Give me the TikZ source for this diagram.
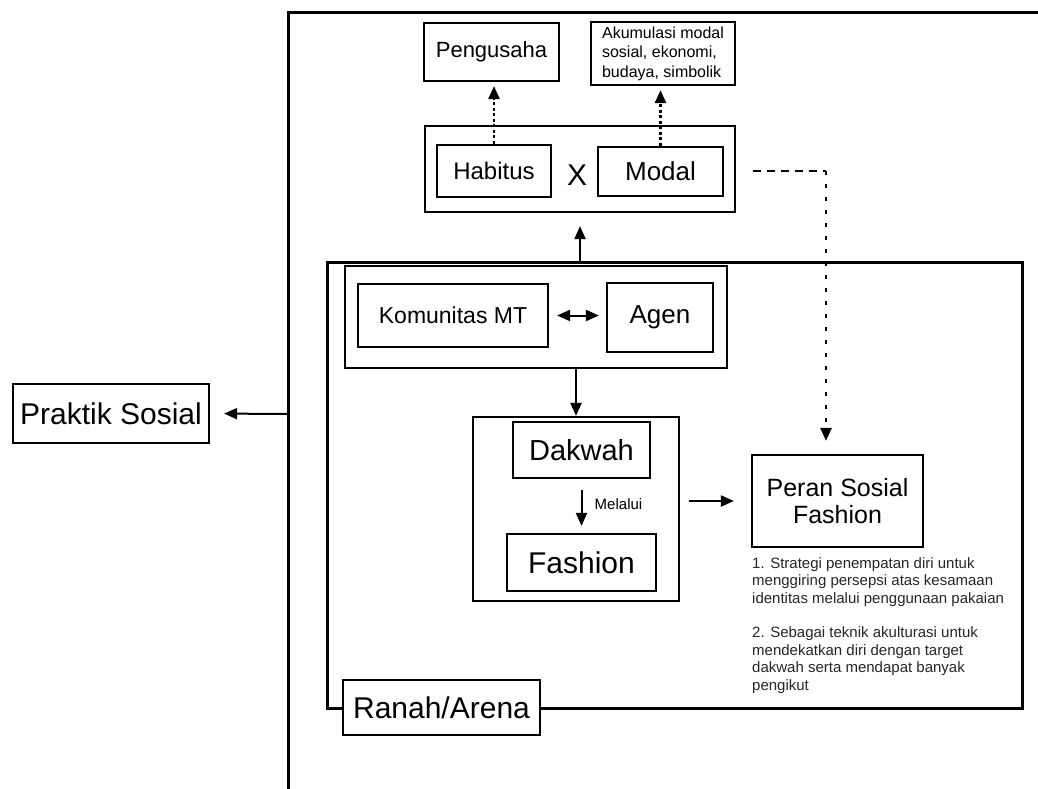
\documentclass[tikz,border=0pt]{standalone}
\usepackage{fontspec}
\setmainfont{Liberation Sans}
\usetikzlibrary{arrows.meta,calc}

\begin{document}
\begin{tikzpicture}[x=1pt,y=-1pt,>={Triangle[length=13pt,width=11pt]},
    box/.style={draw,line width=2.2pt,inner sep=0pt},
    frame/.style={line width=3pt},
    arr/.style={->,line width=2pt},
    dotarr/.style={->,line width=2.6pt,dash pattern=on 3pt off 2.5pt}]
    \useasboundingbox (0,0) rectangle (1038,789);
    % outer frame (open to the right and bottom)
    \draw[frame] (1040,13) -- (288,13) -- (288,792);
    % ranah frame
    \draw[frame] (327,262) rectangle (1022,708);
    \node[box,fill=white,minimum width=197,minimum height=55,font=\fontsize{30}{36}\selectfont] (ranah) at (441.5,707.5) {Ranah/Arena};

    % top part
    \node[box,minimum width=135,minimum height=58,font=\fontsize{22}{26}\selectfont] (peng) at (491.5,52) {Pengusaha};
    \node[box,minimum width=144,minimum height=63,align=left,font=\fontsize{16}{19.5}\selectfont] (akum) at (663,53.5) {Akumulasi modal\\sosial, ekonomi,\\budaya, simbolik};
    \node[box,minimum width=310,minimum height=86] (hm) at (580,169) {};
    \node[box,minimum width=114,minimum height=52,font=\fontsize{24}{28}\selectfont] (hab) at (494,171) {Habitus};
    \node[box,minimum width=125,minimum height=49,font=\fontsize{26}{30}\selectfont] (mod) at (660.5,171.5) {Modal};
    \node[font=\fontsize{30}{36}\selectfont] (kali) at (577,175) {X};
    \draw[dotarr,shorten >=4pt] (hab.north) -- (hab.north |- peng.south);
    \draw[dotarr,shorten >=4pt] (mod.north) -- (mod.north |- akum.south);

    % inside the arena
    \node[box,minimum width=382,minimum height=102] (kom) at (536,317) {};
    \node[box,minimum width=190,minimum height=63,font=\fontsize{23}{28}\selectfont] (komu) at (453,315.5) {Komunitas MT};
    \node[box,minimum width=106,minimum height=69,font=\fontsize{26}{30}\selectfont] (agen) at (660,317.5) {Agen};
    \draw[<->,line width=2pt,shorten <=8pt,shorten >=7pt] (komu.east) -- (komu.east -| agen.west);

    \node[box,minimum width=206,minimum height=184] (dfbox) at (576,509) {};
    \node[box,minimum width=137,minimum height=56,font=\fontsize{29}{34}\selectfont] (dak) at (581.5,450) {Dakwah};
    \node[box,minimum width=149,minimum height=57,font=\fontsize{30}{36}\selectfont] (fas) at (581.5,562.5) {Fashion};
    \draw[arr,shorten <=11pt,shorten >=7pt] (dak.south) -- (fas.north);
    \node[font=\fontsize{15}{18}\selectfont] (melalui) at (618.5,504) {Melalui};
    \draw[arr] (kom.south -| dfbox.north) -- (dfbox.north);

    \node[box,minimum width=171,minimum height=92,align=center,font=\fontsize{25}{27}\selectfont] (peran) at (837.5,501) {Peran Sosial\\Fashion};
    \draw[arr,shorten <=9pt,shorten >=17pt] (dfbox.east |- peran.west) -- (peran.west);
    \node[anchor=north west,inner sep=0pt,align=left,text=black!85,font=\fontsize{15}{17.5}\selectfont] (catatan) at (752,557) {1. Strategi penempatan diri untuk\\menggiring persepsi atas kesamaan\\identitas melalui penggunaan pakaian\\[17pt]2. Sebagai teknik akulturasi untuk\\mendekatkan diri dengan target\\dakwah serta mendapat banyak\\pengikut};

    % arena up to habitus x modal
    \coordinate (rtop) at (580,262);
    \draw[arr,shorten >=13pt] (rtop) -- (hm.south);

    % dotted path to peran sosial
    \coordinate (dstart) at (753,171);
    \coordinate (dturn) at (826,171);
    \draw[line width=2.6pt,dash pattern=on 8pt off 6pt] (dstart) -- (dturn);
    \draw[->,line width=2.6pt,dash pattern=on 4pt off 9pt,shorten >=13pt] (dturn) -- (dturn |- peran.north);

    % praktik sosial
    \node[box,minimum width=196,minimum height=59,font=\fontsize{30}{36}\selectfont] (praktik) at (111,413.5) {Praktik Sosial};
    \coordinate (fleft) at (288,414);
    \draw[arr,shorten >=14pt] (fleft) -- (praktik.east);
\end{tikzpicture}
\end{document}
